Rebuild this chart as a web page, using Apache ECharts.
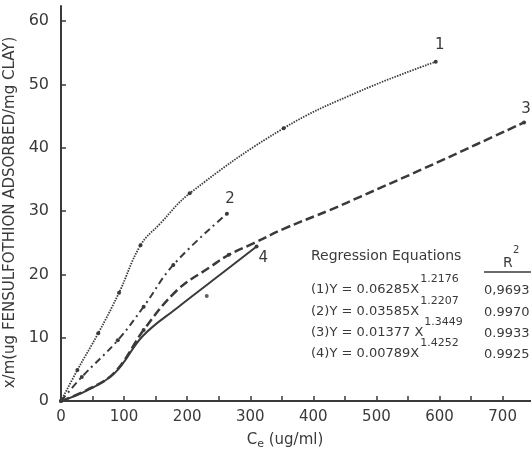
<!DOCTYPE html>
<html>
<head>
<meta charset="utf-8">
<script src="https://cdn.jsdelivr.net/npm/echarts@6/dist/echarts.min.js"></script>
<style>html,body{margin:0;padding:0;background:#fff;}#c{width:531px;height:455px;}</style>
</head>
<body>
<div id="c"></div>
<script>
// ---- data ----
const xTicks = [0, 50, 100, 150, 200, 250, 300, 350, 400, 450, 500, 550, 600, 650, 700];
const xTickLabels = [0, 100, 200, 300, 400, 500, 600, 700];
const yTickLabels = [0, 10, 20, 30, 40, 50, 60];

const curve1X = [0, 26, 59, 92, 126, 157, 204, 353, 475, 594];
const curve1Y = [0, 4.9, 10.7, 17.1, 24.6, 28.0, 32.8, 43.1, 49.0, 53.6];
const curve1Marks = [0, 1, 2, 3, 4, 6, 7, 9];

const curve2X = [0, 33, 90, 131, 178, 263];
const curve2Y = [0, 3.8, 9.6, 14.9, 21.5, 29.6];
const curve2Marks = [0, 1, 2, 3, 4, 5];

const curve3X = [0, 40, 85, 131, 184, 237, 266, 305, 353, 427, 475, 570, 660, 734];
const curve3Y = [0, 1.7, 4.5, 11.2, 17.5, 21.2, 23.1, 24.9, 27.2, 30.2, 32.3, 36.5, 40.6, 44.0];
const curve3Marks = [3, 6, 13];

const curve4X = [0, 40, 85, 130, 184, 266, 310];
const curve4Y = [0, 1.6, 4.4, 10.3, 14.7, 21.0, 24.4];
const curve4Marks = [6];
const outlier4X = [231];
const outlier4Y = [16.6];

const curveNames = ['1', '2', '3', '4'];

const eqLabels = ['(1)', '(2)', '(3)', '(4)'];
const eqCoef = ['0.06285', '0.03585', '0.01377', '0.00789'];
const eqExp = ['1.2176', '1.2207', '1.3449', '1.4252'];
const eqR2 = ['0,9693', '0.9970', '0.9933', '0.9925'];

// ---- chart ----
const INK = '#3a3a3a';
const FONT = 'DejaVu Sans';

function buildData(xs, ys, marks, name, labelOpts, size) {
  const d = xs.map((x, i) => ({
    value: [x, ys[i]],
    symbolSize: marks.indexOf(i) >= 0 ? size : 0
  }));
  d[d.length - 1].label = Object.assign({
    show: true, formatter: name, color: INK, fontFamily: FONT, fontSize: 15
  }, labelOpts);
  return d;
}

const chart = echarts.init(document.getElementById('c'), null, { renderer: 'canvas' });

const measure = document.createElement('canvas').getContext('2d');
function textW(t, size) { measure.font = size + 'px "' + FONT + '"'; return measure.measureText(t).width; }

const graphics = [];
const tableLeft = 311;
const F13 = '13px "' + FONT + '"';
graphics.push({ type: 'text', left: tableLeft, top: 249, style: { text: 'Regression Equations', fill: INK, font: '14px "' + FONT + '"' } });
graphics.push({ type: 'text', left: 503, top: 256, style: { text: 'R', fill: INK, font: '14px "' + FONT + '"' } });
graphics.push({ type: 'text', left: 513, top: 245, style: { text: '2', fill: INK, font: '10px "' + FONT + '"' } });
graphics.push({ type: 'line', shape: { x1: 484, y1: 272, x2: 531, y2: 272 }, style: { stroke: INK, lineWidth: 1.5 } });
const rowTops = [283, 305, 326, 347];
eqLabels.forEach((lab, i) => {
  const main = lab + 'Y = ' + eqCoef[i] + (i === 2 ? ' X' : 'X');
  const w = textW(main, 13);
  graphics.push({ type: 'text', left: tableLeft, top: rowTops[i], style: { text: main, fill: INK, font: F13 } });
  graphics.push({ type: 'text', left: tableLeft + w + 1, top: rowTops[i] - 9, style: { text: eqExp[i], fill: INK, font: '11px "' + FONT + '"' } });
  graphics.push({ type: 'text', left: 484, top: rowTops[i] + 1, style: { text: eqR2[i], fill: INK, font: F13 } });
});

const common = { type: 'line', smooth: 0.4, symbol: 'circle', itemStyle: { color: INK }, z: 2 };

chart.setOption({
  animation: false,
  backgroundColor: '#fff',
  grid: { left: 61, right: 0, top: 6, bottom: 54, outerBoundsMode: 'none', containLabel: false },
  xAxis: {
    type: 'value', min: 0, max: 745,
    name: '{c|C}{e|e}{c| (ug/ml)}', nameLocation: 'middle', nameGap: 30,
    nameTextStyle: { padding: [0, 22, 0, 0], rich: { c: { fontSize: 15, fontFamily: FONT, color: INK }, e: { fontSize: 11, fontFamily: FONT, color: INK, verticalAlign: 'bottom', padding: [8, 0, 0, 0] } } },
    axisLine: { show: true, lineStyle: { color: INK, width: 2 } },
    axisTick: { show: true, inside: true, length: 5, customValues: xTicks, lineStyle: { color: INK, width: 1.5 } },
    axisLabel: { customValues: xTickLabels, color: INK, fontFamily: FONT, fontSize: 15, margin: 9 },
    splitLine: { show: false }
  },
  yAxis: {
    type: 'value', min: 0, max: 62.4,
    name: 'x/m(ug FENSULFOTHION ADSORBED/mg CLAY)', nameLocation: 'middle', nameRotate: 90, nameGap: 35,
    nameTextStyle: { color: INK, fontFamily: FONT, fontSize: 15, padding: [0, 18, 0, 0] },
    axisLine: { show: true, lineStyle: { color: INK, width: 2 } },
    axisTick: { show: true, inside: true, length: 5, customValues: yTickLabels, lineStyle: { color: INK, width: 1.5 } },
    axisLabel: { customValues: yTickLabels, color: INK, fontFamily: FONT, fontSize: 16, margin: 12 },
    splitLine: { show: false }
  },
  graphic: graphics,
  series: [
    Object.assign({}, common, {
      name: curveNames[0],
      data: buildData(curve1X, curve1Y, curve1Marks, curveNames[0], { position: 'top', offset: [4, -2] }, 4),
      lineStyle: { color: INK, width: 1.8, type: [1.5, 1.2] }
    }),
    Object.assign({}, common, {
      name: curveNames[1],
      data: buildData(curve2X, curve2Y, curve2Marks, curveNames[1], { position: 'top', offset: [3, 0] }, 4),
      lineStyle: { color: INK, width: 2, type: [7, 4, 2, 4] }
    }),
    Object.assign({}, common, {
      name: curveNames[2],
      data: buildData(curve3X, curve3Y, curve3Marks, curveNames[2], { position: 'top', offset: [2, 1] }, 4),
      lineStyle: { color: INK, width: 2.5, type: [9, 4] }
    }),
    Object.assign({}, common, {
      name: curveNames[3],
      data: buildData(curve4X, curve4Y, curve4Marks, curveNames[3], { position: 'right', offset: [-5, 12] }, 4),
      lineStyle: { color: INK, width: 2, type: 'solid' }
    }),
    {
      type: 'scatter', name: curveNames[3] + ' pts',
      data: outlier4X.map((x, i) => [x, outlier4Y[i]]),
      symbolSize: 4, itemStyle: { color: INK }
    }
  ]
});
</script>
</body>
</html>
